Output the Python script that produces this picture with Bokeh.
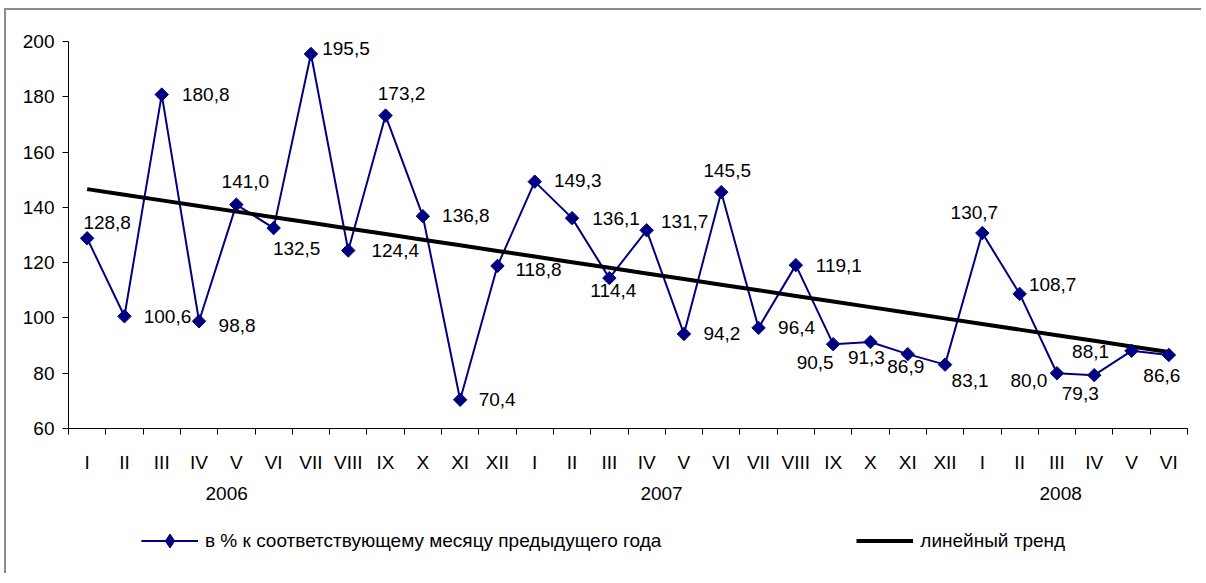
import numpy as np
from bokeh.plotting import figure
from bokeh.layouts import column
from bokeh.models import (ColumnDataSource, Range1d, FixedTicker, Legend, LegendItem, LinearAxis)
from bokeh.core.properties import value
from bokeh.embed import file_html
from bokeh.resources import INLINE

# ---------------- data ----------------
months = ["I", "II", "III", "IV", "V", "VI", "VII", "VIII", "IX", "X", "XI", "XII",
          "I", "II", "III", "IV", "V", "VI", "VII", "VIII", "IX", "X", "XI", "XII",
          "I", "II", "III", "IV", "V", "VI"]
years = ["2006", "2007", "2008"]
values = [128.8, 100.6, 180.8, 98.8, 141.0, 132.5, 195.5, 124.4, 173.2, 136.8, 70.4, 118.8,
          149.3, 136.1, 114.4, 131.7, 94.2, 145.5, 96.4, 119.1, 90.5, 91.3, 86.9, 83.1,
          130.7, 108.7, 80.0, 79.3, 88.1, 86.6]
series_name = "в % к соответствующему месяцу предыдущего года"
trend_name = "линейный тренд"
y_ticks = [60, 80, 100, 120, 140, 160, 180, 200]

# ---------------- label placement (pixels) ----------------
lab_dx = [20, 43, 44, 38, 9, 23, 35, 47, 16, 43, 37, 41,
          43, 44, 4, 38, 38, 6, 38, 43, -18, -4, -2, 25,
          -8, 33, -28, -14, -41, -7]
lab_dy = [-16, 0, 0, 4, -23, 20, -5, 0, -22, -1, 0, 4,
          -1, 0, 12, -9, 0, -22, 0, 0, 18, 16, 12, 16,
          -21, -9, 7, 18, 1, 21]
year_pos = [3.74, 15.4, 26.1]

FONT = "Liberation Sans"
FS = "19px"
NAVY = "#000080"

idx = np.arange(len(values))
coef = np.polyfit(idx, np.array(values), 1)
trend = np.polyval(coef, idx)

src = ColumnDataSource(dict(
    x=idx, y=values, t=trend,
    lab=[f"{v:.1f}".replace(".", ",") for v in values],
    dx=lab_dx, dy=lab_dy,
))

xr = Range1d(-0.5, len(values) - 0.5)
p = figure(width=1195, height=500, output_backend="svg", toolbar_location=None,
           x_range=xr, y_range=Range1d(60, 200))
p.min_border_left = 62
p.min_border_right = 14
p.min_border_top = 31
p.min_border_bottom = 82
p.outline_line_color = None
p.xgrid.visible = False
p.ygrid.visible = False

# month axis
xa = p.xaxis[0]
xa.ticker = FixedTicker(ticks=list(idx), minor_ticks=[i - 0.5 for i in range(len(values) + 1)])
xa.major_label_overrides = {int(i): months[i] for i in idx}
xa.major_tick_line_color = None
xa.major_tick_out = 6
xa.major_tick_in = 0
xa.minor_tick_out = 6
xa.minor_tick_in = 0
xa.minor_tick_line_color = "black"
xa.axis_line_color = "black"
xa.major_label_standoff = 17
xa.major_label_text_font = FONT
xa.major_label_text_font_size = FS
xa.major_label_text_color = "black"

# year axis
ya2 = LinearAxis(ticker=FixedTicker(ticks=year_pos, minor_ticks=[]),
                 major_label_overrides={float(xp): yr for xp, yr in zip(year_pos, years)},
                 axis_line_color=None, major_tick_line_color=None, minor_tick_line_color=None,
                 major_tick_out=0, major_tick_in=0, major_label_standoff=11,
                 major_label_text_font=FONT, major_label_text_font_size=FS,
                 major_label_text_color="black")
p.add_layout(ya2, "below")

ya = p.yaxis[0]
ya.ticker = FixedTicker(ticks=y_ticks, minor_ticks=[])
ya.major_tick_out = 6
ya.major_tick_in = 0
ya.minor_tick_line_color = None
ya.axis_line_color = "black"
ya.major_tick_line_color = "black"
ya.major_label_standoff = 8
ya.major_label_text_font = FONT
ya.major_label_text_font_size = FS
ya.major_label_text_color = "black"

# series
line_kw = dict(line_color=NAVY, line_width=2)
trend_kw = dict(line_color="black", line_width=4)

p.line("x", "y", source=src, **line_kw)
p.line("x", "t", source=src, **trend_kw)
p.scatter("x", "y", source=src, marker="square", angle=np.pi / 4, size=9.5,
          fill_color=NAVY, line_color=NAVY)
p.text("x", "y", text="lab", source=src, x_offset="dx", y_offset="dy",
       text_align="center", text_baseline="middle", text_font=value(FONT),
       text_font_size=FS, text_color="black")

# legend strip (same styles; its data lies outside the strip's visible range)
p2 = figure(width=1195, height=63, output_backend="svg", toolbar_location=None,
            x_range=xr, y_range=Range1d(0, 1), x_axis_type=None, y_axis_type=None)
p2.min_border = 0
p2.outline_line_color = None
p2.xgrid.visible = False
p2.ygrid.visible = False
l1 = p2.line("x", "y", source=src, **line_kw)
l2 = p2.line("x", "t", source=src, **trend_kw)
s1 = p2.scatter("x", "y", source=src, marker="diamond", size=18,
                fill_color=NAVY, line_color=NAVY)

lg = Legend(items=[LegendItem(label=series_name, renderers=[l1, s1]),
                   LegendItem(label=trend_name, renderers=[l2])],
            location=(73, 15), orientation="horizontal",
            glyph_width=57, glyph_height=35, label_standoff=7, spacing=195,
            padding=0, margin=0, border_line_color=None, background_fill_alpha=0,
            label_text_font=FONT, label_text_font_size=FS, label_text_color="black")
p2.add_layout(lg, "center")

layout = column(p, p2, spacing=0,
                styles={"margin-left": "4px", "margin-top": "8px",
                        "border-top": "2px solid #8c8c8c", "border-left": "2px solid #8c8c8c"})

open("out.html", "w").write(file_html(layout, INLINE))
